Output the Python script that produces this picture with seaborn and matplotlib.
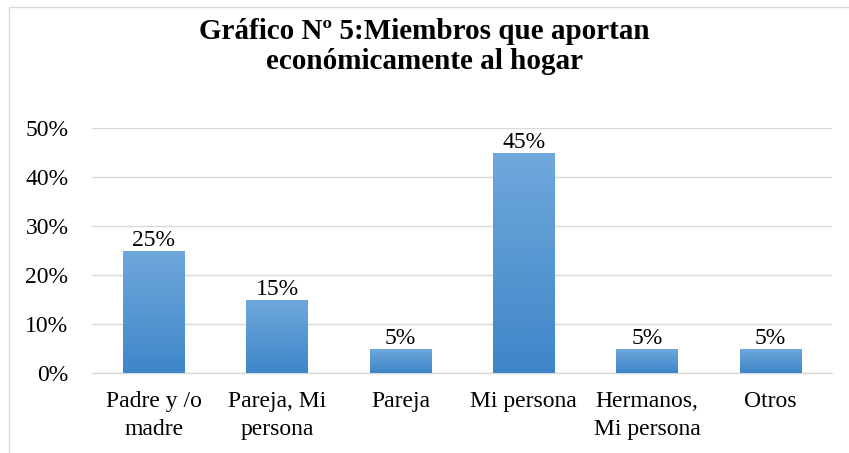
import matplotlib
matplotlib.use("Agg")
import matplotlib.pyplot as plt
import seaborn as sns
import numpy as np
import pandas as pd
from matplotlib.colors import LinearSegmentedColormap
from matplotlib.patches import Rectangle

categories = ["Padre y /o\nmadre", "Pareja, Mi\npersona", "Pareja", "Mi persona",
              "Hermanos,\nMi persona", "Otros"]
values = [0.25, 0.15, 0.05, 0.45, 0.05, 0.05]
value_labels = ["25%", "15%", "5%", "45%", "5%", "5%"]
yticks = [0, 0.1, 0.2, 0.3, 0.4, 0.5]
ytick_labels = ["0%", "10%", "20%", "30%", "40%", "50%"]
title = "Gráfico Nº 5:Miembros que aportan\neconómicamente al hogar"

sns.set_theme(style="white")
plt.rcParams['font.family'] = ['Liberation Serif', 'DejaVu Serif']
plt.rcParams['text.color'] = 'black'
plt.rcParams['xtick.color'] = 'black'
plt.rcParams['ytick.color'] = 'black'

df = pd.DataFrame({"cat": categories, "val": values})

fig = plt.figure(figsize=(8.49, 4.53), dpi=100)
ax = fig.add_axes([0.1084, 0.1766, 0.8716, 0.5408])

sns.barplot(data=df, x="cat", y="val", ax=ax, color="#5b9bd5", width=0.5,
            saturation=1, zorder=3)

ax.set_ylim(0, 0.5)
ax.set_yticks(yticks)
ax.set_yticklabels(ytick_labels, fontsize=17)
ax.tick_params(axis='x', labelsize=17, pad=13, length=0, colors='black')
ax.tick_params(axis='y', length=0, pad=17, colors='black')
for lab in ax.get_xticklabels():
    lab.set_linespacing(1.42)
ax.set_xlabel("")
ax.set_ylabel("")
ax.grid(axis='y', color="#d9d9d9", linewidth=1.0, zorder=0)
for s in ["top", "right", "left"]:
    ax.spines[s].set_visible(False)
ax.spines["bottom"].set_color("#d9d9d9")
ax.spines["bottom"].set_linewidth(1.0)

# gradient fill on bars
cmap = LinearSegmentedColormap.from_list("g", ["#3f86c8", "#6fa8dc"])
grad = np.linspace(0, 1, 256).reshape(-1, 1)
for p in list(ax.patches):
    x0, y0 = p.get_x(), p.get_y()
    w, h = p.get_width(), p.get_height()
    p.set_alpha(0)
    im = ax.imshow(grad, cmap=cmap, origin="lower", aspect="auto",
                   extent=[x0, x0 + w, y0, y0 + h], zorder=3)
    clip = Rectangle((x0, y0), w, h, transform=ax.transData)
    im.set_clip_path(clip)
ax.set_xlim(-0.5, len(categories) - 0.5)
ax.set_ylim(0, 0.5)

for i, (v, lab) in enumerate(zip(values, value_labels)):
    ax.text(i, v - 0.002, lab, ha="center", va="bottom", fontsize=17,
            color="black", zorder=4)

fig.text(0.5, 0.96, title, ha="center", va="top", fontsize=21,
         fontweight="bold", linespacing=1.15, color="black")

# figure border
fig.add_artist(Rectangle((9 / 849, -0.01), 1.0, 1 - 7 / 453 + 0.01,
                         transform=fig.transFigure, fill=False,
                         edgecolor="#d9d9d9", linewidth=1.0))

fig.savefig("out.png", dpi=100)
